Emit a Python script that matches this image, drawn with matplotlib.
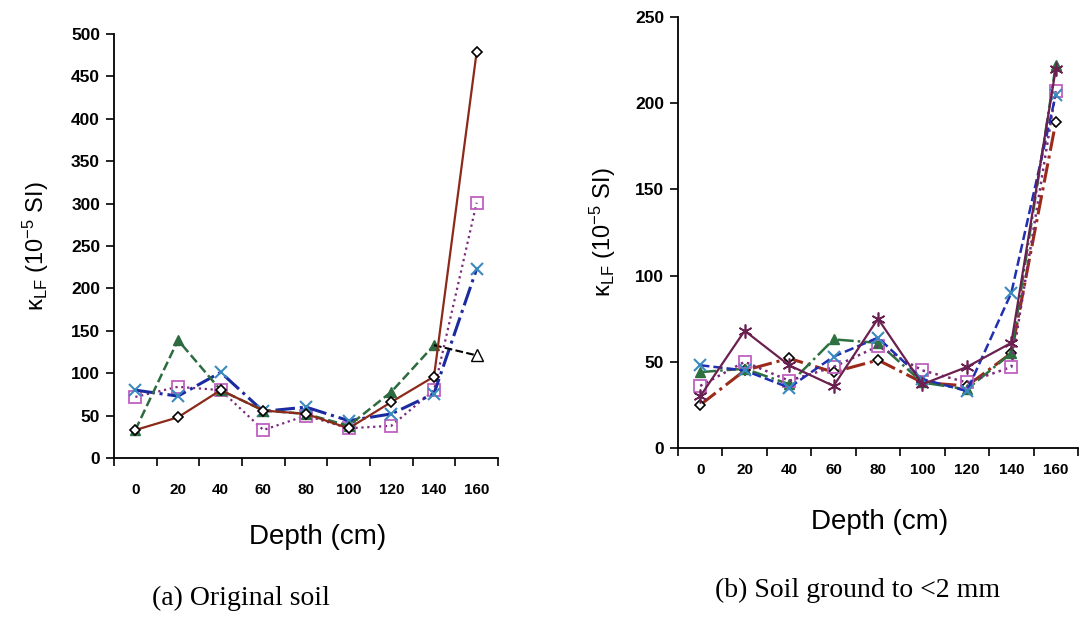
import matplotlib
matplotlib.use('Agg')
import matplotlib.pyplot as plt
from matplotlib.ticker import FixedLocator, NullFormatter

plt.rcParams['font.family'] = ['Liberation Sans', 'DejaVu Sans']
plt.rcParams['mathtext.fontset'] = 'custom'
plt.rcParams['mathtext.rm'] = 'Liberation Sans'
plt.rcParams['mathtext.it'] = 'Liberation Sans:italic'

depth = ['0', '20', '40', '60', '80', '100', '120', '140', '160']

# (a) original soil
a_diamond = [33, 48, 80, 56, 52, 35, 66, 96, 479]
a_square = [72, 84, 80, 33, 50, 35, 38, 80, 301]
a_cross = [80, 73, 101, 55, 60, 44, 52, 76, 223]
a_triangle = [33, 139, 80, 56, 52, 38, 78, 133, 121]

# (b) soil ground to <2 mm
b_diamond = [25, 45, 52, 44, 51, 38, 36, 55, 189]
b_square = [36, 50, 39, 47, 59, 45, 38, 47, 207]
b_cross = [48, 45, 35, 53, 64, 40, 33, 90, 205]
b_triangle = [44, 46, 37, 63, 61, 38, 34, 55, 222]
b_star = [30, 68, 48, 36, 75, 37, 47, 61, 220]

W, H = 1083, 618
fig = plt.figure(figsize=(W / 100, H / 100), dpi=100)


def box(x0, y0, x1, y1):
    return [x0 / W, 1 - y1 / H, (x1 - x0) / W, (y1 - y0) / H]


def style_axes(ax, ymax, pad):
    n = len(depth)
    ax.set_xlim(-0.5, n - 0.5)
    ax.set_ylim(0, ymax)
    for side in ['top', 'right']:
        ax.spines[side].set_visible(False)
    for side in ['left', 'bottom']:
        ax.spines[side].set_linewidth(1.3)
    ax.xaxis.set_major_locator(FixedLocator([i - 0.5 for i in range(n + 1)]))
    ax.xaxis.set_major_formatter(NullFormatter())
    ax.set_xticks(range(n), depth, minor=True)
    ax.tick_params(axis='x', which='major', length=6, width=1.2, direction='out')
    ax.tick_params(axis='x', which='minor', length=0, pad=pad, labelsize=11)
    ax.tick_params(axis='y', length=6, width=1.2, labelsize=12.5, pad=4)
    for lab in ax.get_xticklabels(minor=True) + ax.get_yticklabels():
        lab.set_fontweight('bold')
    ax.set_ylabel('κ$_{\\mathrm{LF}}$ (10$^{-5}$ SI)', fontsize=17)


x = range(len(depth))

ax1 = fig.add_axes(box(114, 34, 498, 458))
ax1.plot(x, a_square, ':', color='#7a2a7a', lw=1.6, marker='s', ms=8,
         mfc='none', mec='#c060c0', mew=1.3)
ax1.plot(x, a_cross, '-.', color='#1a2aa0', lw=2.2, marker='x', ms=9,
         mec='#3a8ac0', mew=1.5)
ax1.plot(x[:-1], a_triangle[:-1], '--', color='#2e6b40', lw=1.8, marker='^', ms=7,
         mfc='#2e6b40', mec='#2e6b40')
ax1.plot(x[-2:], a_triangle[-2:], '--', color='black', lw=1.5, marker='^', ms=8,
         mfc='white', mec='black', markevery=[1])
ax1.plot(x, a_diamond, '-', color='#8b2a1a', lw=1.6, marker='D', ms=5,
         mfc='white', mec='black', mew=1.2)
style_axes(ax1, 500, 18)
ax1.set_yticks(range(0, 501, 50))
ax1.yaxis.set_label_coords(-0.165, 0.5)

ax2 = fig.add_axes(box(678, 17, 1078, 448))
ax2.plot(x, b_diamond, '-.', color='#9b2a1a', lw=2.2, marker='D', ms=5,
         mfc='white', mec='black', mew=1.2)
ax2.plot(x, b_triangle, '-.', color='#2e7040', lw=1.8, marker='^', ms=7,
         mfc='#2e7040', mec='#2e7040')
ax2.plot(x, b_square, ':', color='#7a2a7a', lw=1.8, marker='s', ms=8,
         mfc='none', mec='#c060c0', mew=1.3)
ax2.plot(x, b_cross, '--', color='#2030b0', lw=1.8, marker='x', ms=9,
         mec='#3a8ac0', mew=1.5)
ax2.plot(x, b_star, '-', color='#6a2050', lw=1.6, marker=(6, 2, 0), ms=10,
         mec='#6a2050', mew=1.2)
style_axes(ax2, 250, 11)
ax2.set_yticks(range(0, 251, 50))
ax2.yaxis.set_label_coords(-0.15, 0.5)

fig.text(318 / W, 1 - 537 / H, 'Depth (cm)', ha='center', va='center', fontsize=20)
fig.text(880 / W, 1 - 522 / H, 'Depth (cm)', ha='center', va='center', fontsize=20)
fig.text(241 / W, 1 - 598 / H, '(a) Original soil', ha='center', va='center',
         fontsize=20, family='Liberation Serif')
fig.text(858 / W, 1 - 590 / H, '(b) Soil ground to <2 mm', ha='center', va='center',
         fontsize=20, family='Liberation Serif')

fig.savefig('out.png', dpi=100)
